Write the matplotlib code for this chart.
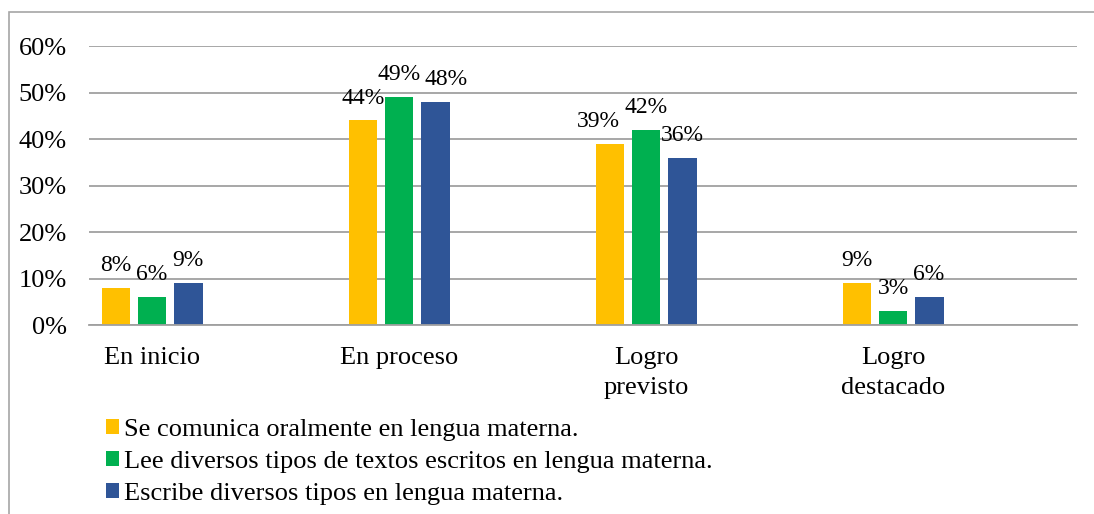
import numpy as np
import matplotlib.pyplot as plt
from matplotlib.patches import Rectangle
from matplotlib.ticker import PercentFormatter

categorias = ['En inicio', 'En proceso', 'Logro\nprevisto', 'Logro\ndestacado']
oral = [8, 44, 39, 9]
lee = [6, 49, 42, 3]
escribe = [9, 48, 36, 6]
series = ['Se comunica oralmente en lengua materna.',
          'Lee diversos tipos de textos escritos en lengua materna.',
          'Escribe diversos tipos en lengua materna.']
colores = ['#FFC000', '#00B050', '#2F5597']

# pequenos desplazamientos de etiquetas (como hace Excel para evitar solapes), en puntos
nudge = {(1, 2): 8, (2, 0): -8}

plt.rcParams['font.family'] = ['Liberation Serif', 'DejaVu Serif']
FS = 19

fig = plt.figure(figsize=(10.94, 5.14), dpi=100)
ax = fig.add_axes([0.0814, 0.3677, 0.9031, 0.5428])

x = np.arange(len(categorias))
ancho = 0.117
paso = 0.146
for i, (vals, nombre, c) in enumerate(zip([oral, lee, escribe], series, colores)):
    pos = x + (i - 1) * paso
    barras = ax.bar(pos, [v / 100 for v in vals], ancho, color=c, label=nombre, zorder=2)
    for j, (b, v) in enumerate(zip(barras, vals)):
        ax.annotate(f'{v}%', (b.get_x() + b.get_width() / 2, b.get_height()),
                    xytext=(nudge.get((j, i), 0), 16), textcoords='offset points',
                    ha='center', va='center', fontsize=17, color='black')

ax.set_xlim(-0.255, 3.745)
ax.set_ylim(0, 0.6)
ax.set_yticks(np.arange(0, 0.61, 0.1))
ax.yaxis.set_major_formatter(PercentFormatter(1.0, decimals=0))
ax.set_xticks(x)
ax.set_xticklabels(categorias, fontsize=FS, linespacing=1.45, va='top')
ax.tick_params(axis='y', labelsize=FS, length=0, pad=16, labelcolor='black')
ax.tick_params(axis='x', length=0, pad=16, labelcolor='black')

ax.grid(axis='y', color='#A0A0A0', linewidth=1.3, zorder=0)
for s in ['top', 'right', 'left']:
    ax.spines[s].set_visible(False)
ax.spines['bottom'].set_color('#A0A0A0')
ax.spines['bottom'].set_linewidth(1.3)

ax.legend(loc='upper left', bbox_to_anchor=(106 / 1094, 1 - 419 / 514),
          bbox_transform=fig.transFigure, frameon=False, fontsize=FS,
          handlelength=0.5, handleheight=0.5, handletextpad=0.2,
          labelspacing=0.38, borderpad=0, borderaxespad=0)

# marco del grafico
fig.patches.append(Rectangle((9 / 1094, -0.1), 1.2, 1 - 12 / 514 + 0.1,
                             transform=fig.transFigure, fill=False,
                             edgecolor='#A6A6A6', linewidth=1.2))

fig.savefig('out.png', dpi=100)
